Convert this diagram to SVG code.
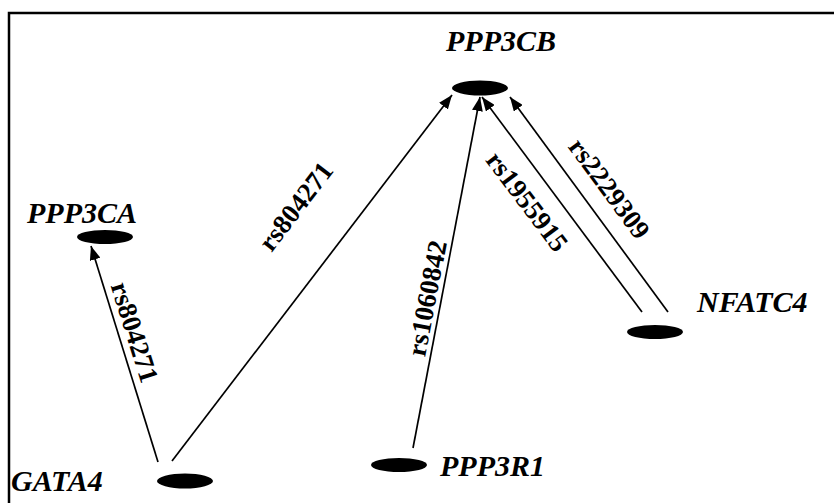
<svg xmlns="http://www.w3.org/2000/svg" width="834" height="503" viewBox="0 0 834 503">
  <style>
    .node-label { font-family: "Liberation Serif", "Times New Roman", serif; font-size: 30px; font-weight: bold; font-style: italic; fill: #000; }
    .edge-label { font-family: "Liberation Serif", "Times New Roman", serif; font-size: 27px; font-weight: bold; fill: #000; }
    .dot { fill: #000; }
    .edge { stroke: #000; stroke-width: 1.7; fill: none; marker-end: url(#arrow); }
  </style>
  <defs>
    <marker id="arrow" viewBox="0 0 14 11" refX="14" refY="5.5" markerWidth="14" markerHeight="11" markerUnits="userSpaceOnUse" orient="auto">
      <path d="M0,0 L14,5.5 L0,11 z" fill="#000"/>
    </marker>
  </defs>

  <rect width="834" height="503" fill="#fff"/>
  <!-- frame -->
  <rect x="9" y="13" width="840" height="510" fill="none" stroke="#000" stroke-width="2.5"/>

  <g id="edges">
    <line class="edge" x1="158" y1="462" x2="91" y2="246"/>
    <line class="edge" x1="172" y1="461" x2="452" y2="95"/>
    <line class="edge" x1="413" y1="448" x2="480" y2="97"/>
    <line class="edge" x1="642" y1="312" x2="482" y2="97"/>
    <line class="edge" x1="668" y1="312" x2="510" y2="97"/>
    <text class="edge-label" text-anchor="middle" transform="translate(126,335) rotate(72.6)">rs804271</text>
    <text class="edge-label" text-anchor="middle" transform="translate(303,212) rotate(-52.6)">rs804271</text>
    <text class="edge-label" text-anchor="middle" transform="translate(436,300) rotate(-79.2)">rs1060842</text>
    <text class="edge-label" text-anchor="middle" transform="translate(520,207) rotate(53)">rs1955915</text>
    <text class="edge-label" text-anchor="middle" transform="translate(602,194) rotate(53.7)">rs2229309</text>
  </g>

  <g id="PPP3CB">
    <ellipse class="dot" cx="480" cy="88" rx="28" ry="7.5"/>
    <text class="node-label" x="446" y="51">PPP3CB</text>
  </g>
  <g id="PPP3CA">
    <ellipse class="dot" cx="105" cy="237" rx="28" ry="7"/>
    <text class="node-label" x="27" y="223">PPP3CA</text>
  </g>
  <g id="GATA4">
    <ellipse class="dot" cx="185" cy="481" rx="28" ry="7.5"/>
    <text class="node-label" x="11" y="491">GATA4</text>
  </g>
  <g id="PPP3R1">
    <ellipse class="dot" cx="399" cy="465" rx="28" ry="7"/>
    <text class="node-label" x="440" y="476">PPP3R1</text>
  </g>
  <g id="NFATC4">
    <ellipse class="dot" cx="655" cy="332" rx="28" ry="7"/>
    <text class="node-label" x="697" y="312">NFATC4</text>
  </g>
</svg>
